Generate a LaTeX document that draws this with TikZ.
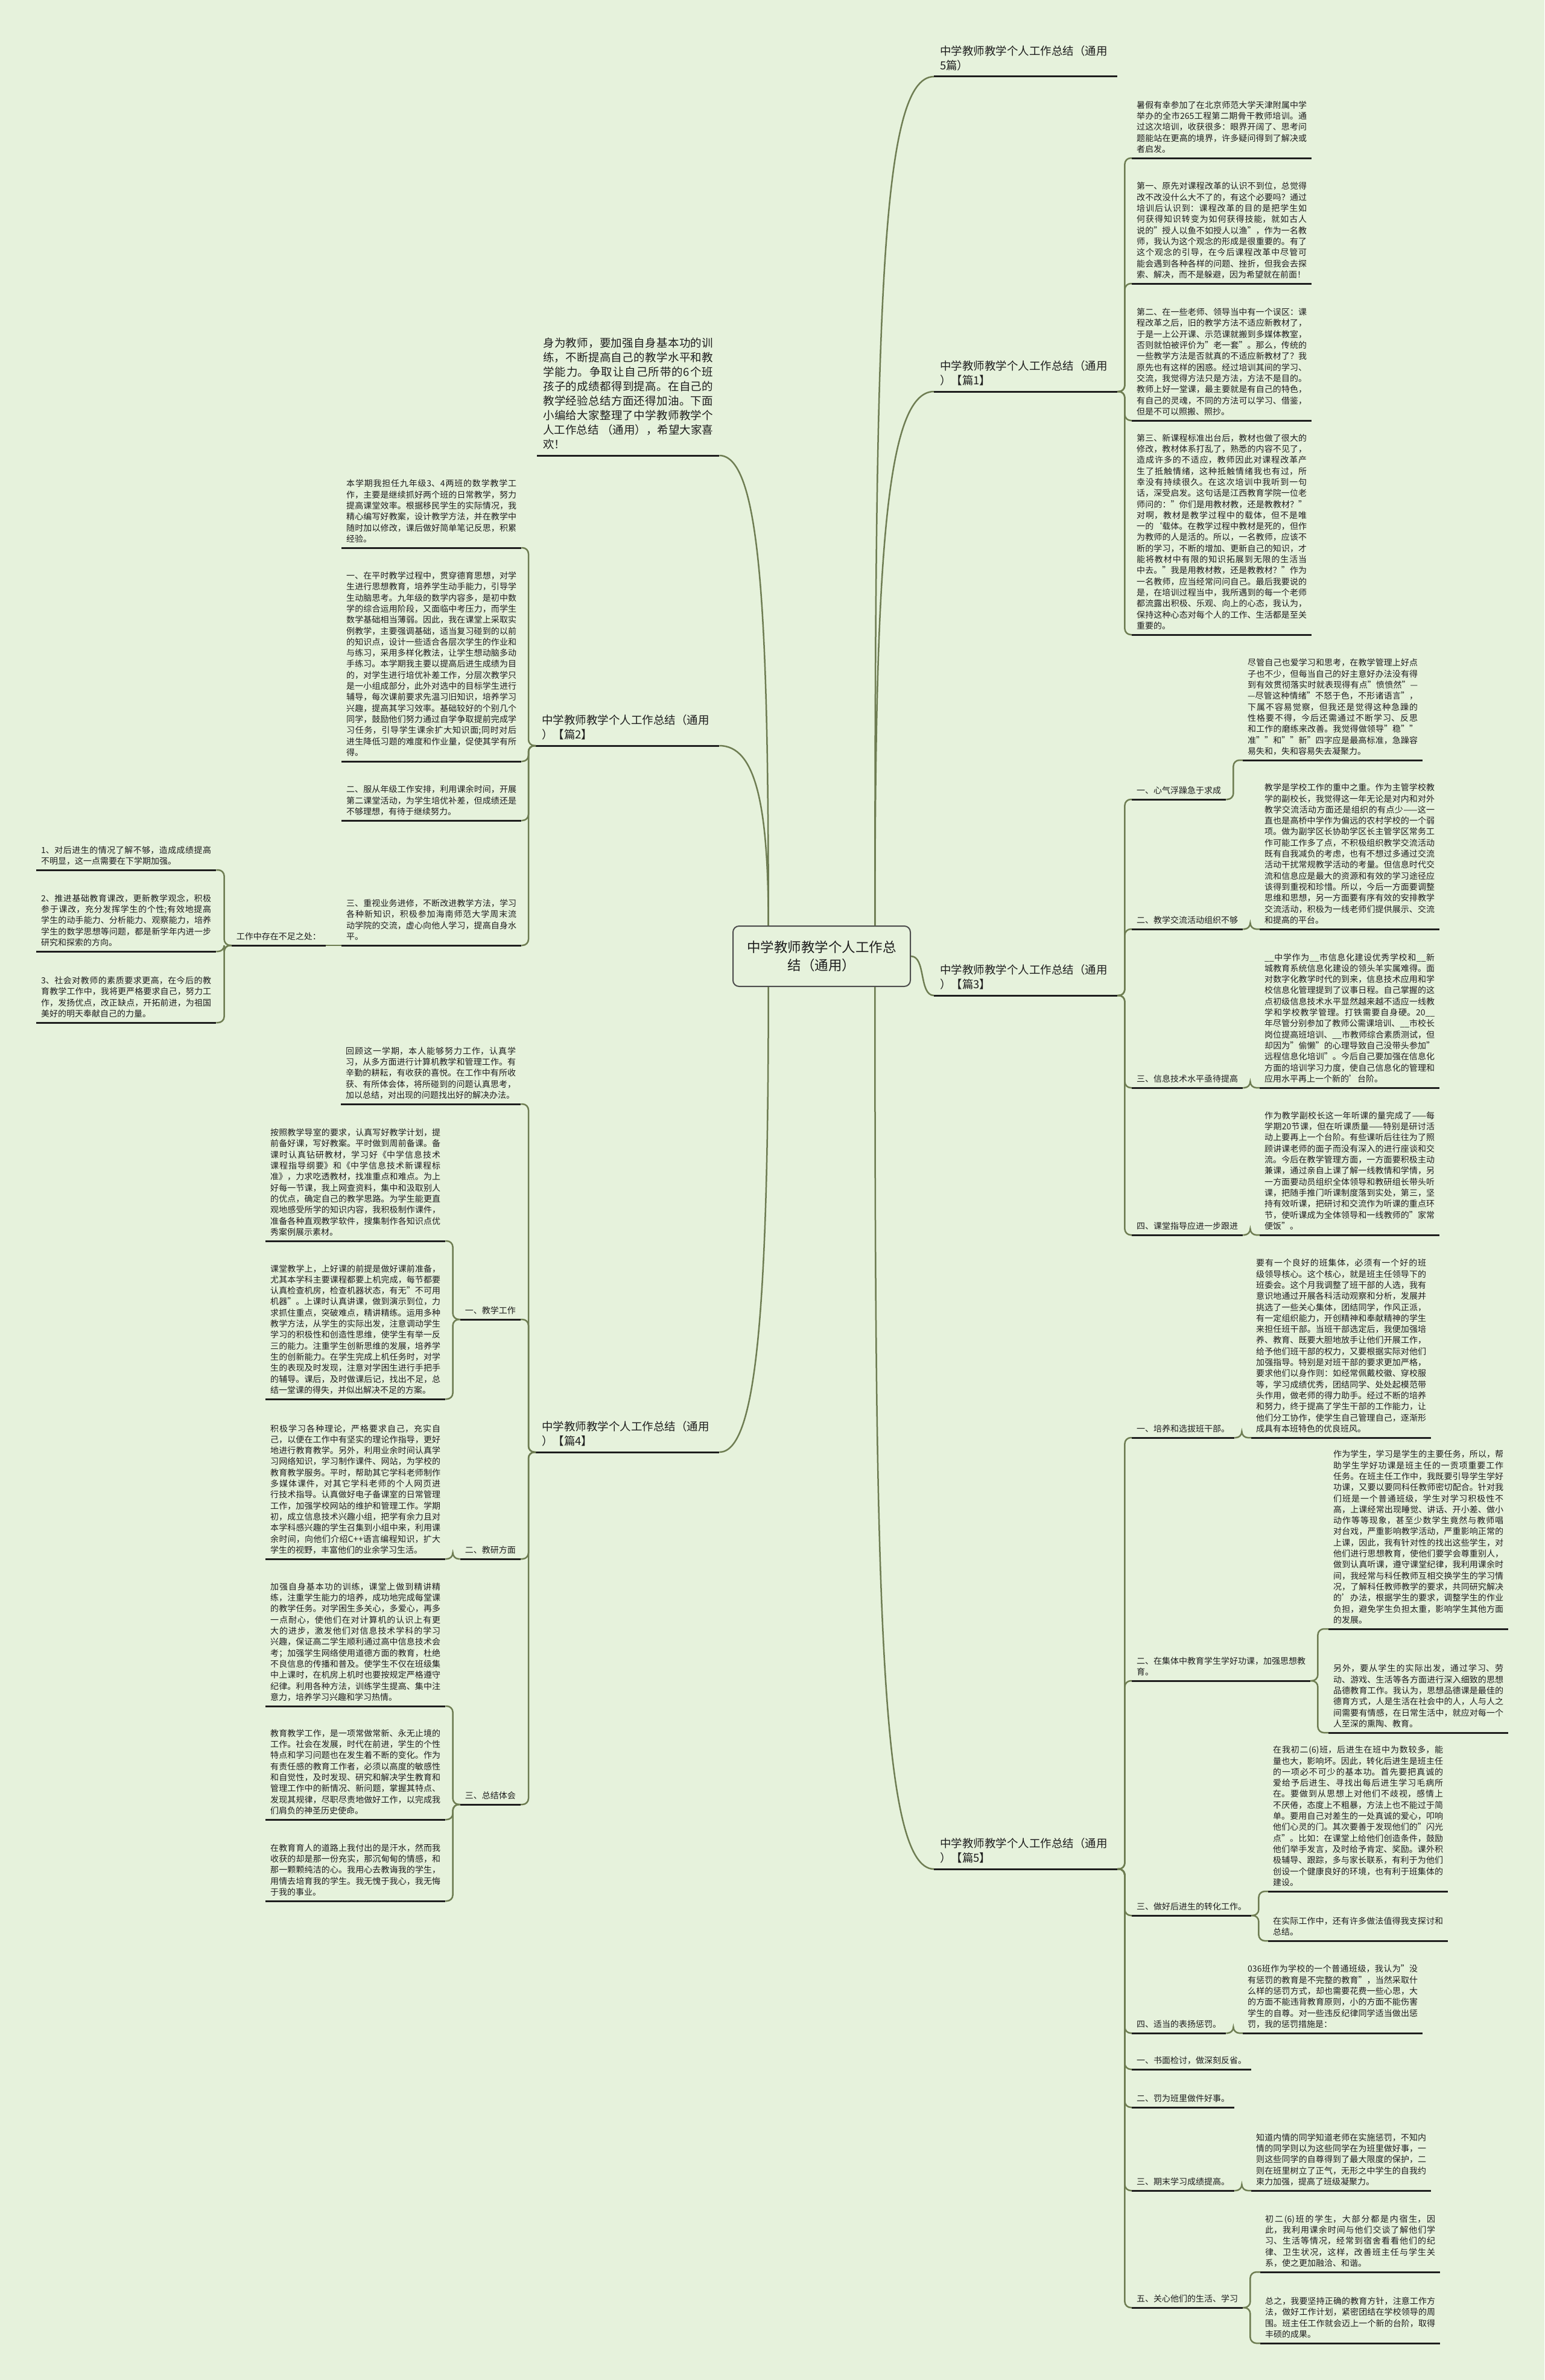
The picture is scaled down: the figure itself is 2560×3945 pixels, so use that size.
\documentclass[tikz,border=0pt]{standalone}
\usepackage{fontspec}
\setmainfont{Noto Sans CJK SC}
\XeTeXlinebreaklocale "zh"
\XeTeXlinebreakskip=0pt plus 1pt
\usetikzlibrary{calc}
\definecolor{mapbg}{HTML}{E6F2DC}
\definecolor{mapline}{HTML}{6E7D52}
\definecolor{mapink}{HTML}{1E1E1E}

\tikzset{
  leaf/.style={anchor=south west, inner xsep=8pt, inner ysep=4pt, text width=282pt,
    align=justify, font=\fontsize{14}{18.3}\selectfont, text=mapink,
    execute at begin node=\strut, execute at end node=\strut},
  head/.style={anchor=south west, inner xsep=8pt, inner ysep=4pt, align=left,
    font=\fontsize{14}{18.3}\selectfont, text=mapink,
    execute at begin node=\strut, execute at end node=\strut},
  part/.style={anchor=south west, inner xsep=10pt, inner ysep=4pt, text width=284pt,
    align=left, font=\fontsize{18.5}{24}\selectfont, text=mapink,
    execute at begin node=\strut, execute at end node=\strut},
  uline/.style={draw=mapink, line width=3pt},
  conn/.style={draw=mapline, line width=2.5pt, rounded corners=10pt},
}

\begin{document}
\begin{tikzpicture}[x=1pt,y=-1pt]
  \fill[mapbg] (0,0) rectangle (2560,3945);
  \useasboundingbox (0,0) rectangle (2560,3945);

  % root
  \node[draw=black!70, line width=2pt, rounded corners=10pt, fill=mapbg,
    minimum width=294pt, minimum height=100pt, align=center, text=mapink,
    font=\fontsize{22.5}{30}\selectfont] (root) at (1362,1585)
    {中学教师教学个人工作总\\结（通用）};

  % right side
  \node[part] (ttl) at (1548,127) {中学教师教学个人工作总结（通用\\5篇）};
  \node[part] (p1) at (1548,649) {中学教师教学个人工作总结（通用\\）【篇1】};
  \node[part] (p3) at (1548,1650) {中学教师教学个人工作总结（通用\\）【篇3】};
  \node[part] (p5) at (1548,3098) {中学教师教学个人工作总结（通用\\）【篇5】};

  \node[leaf] (p1a) at (1876,262) {暑假有幸参加了在北京师范大学天津附属中学举办的全市265工程第二期骨干教师培训。通过这次培训，收获很多：眼界开阔了、思考问题能站在更高的境界，许多疑问得到了解决或者启发。};
  \node[leaf] (p1b) at (1876,470) {第一、原先对课程改革的认识不到位，总觉得改不改没什么大不了的，有这个必要吗？通过培训后认识到：课程改革的目的是把学生如何获得知识转变为如何获得技能，就如古人说的"授人以鱼不如授人以渔"，作为一名教师，我认为这个观念的形成是很重要的。有了这个观念的引导，在今后课程改革中尽管可能会遇到各种各样的问题、挫折，但我会去探索、解决，而不是躲避，因为希望就在前面！};
  \node[leaf] (p1c) at (1876,697) {第二、在一些老师、领导当中有一个误区：课程改革之后，旧的教学方法不适应新教材了，于是一上公开课、示范课就搬到多媒体教室，否则就怕被评价为"老一套"。那么，传统的一些教学方法是否就真的不适应新教材了？我原先也有这样的困惑。经过培训其间的学习、交流，我觉得方法只是方法，方法不是目的。教师上好一堂课，最主要就是有自己的特色，有自己的灵魂，不同的方法可以学习、借鉴，但是不可以照搬、照抄。};
  \node[leaf] (p1d) at (1876,1052) {第三、新课程标准出台后，教材也做了很大的修改，教材体系打乱了，熟悉的内容不见了，造成许多的不适应，教师因此对课程改革产生了抵触情绪，这种抵触情绪我也有过，所幸没有持续很久。在这次培训中我听到一句话，深受启发。这句话是江西教育学院一位老师问的："你们是用教材教，还是教教材？"对啊，教材是教学过程中的载体，但不是唯一的`载体。在教学过程中教材是死的，但作为教师的人是活的。所以，一名教师，应该不断的学习，不断的增加、更新自己的知识，才能将教材中有限的知识拓展到无限的生活当中去。"我是用教材教，还是教教材？"作为一名教师，应当经常问问自己。最后我要说的是，在培训过程当中，我所遇到的每一个老师都流露出积极、乐观、向上的心态，我认为，保持这种心态对每个人的工作、生活都是至关重要的。};

  \node[head] (p3ha) at (1876,1325) {一、心气浮躁急于求成};
  \node[head] (p3hb) at (1876,1540) {二、教学交流活动组织不够};
  \node[head] (p3hc) at (1876,1803) {三、信息技术水平亟待提高};
  \node[head] (p3hd) at (1876,2047) {四、课堂指导应进一步跟进};
  \node[leaf] (p3a) at (2060,1260) {尽管自己也爱学习和思考，在教学管理上好点子也不少，但每当自己的好主意好办法没有得到有效贯彻落实时就表现得有点"愤愤然"——尽管这种情绪"不怒于色，不形诸语言"，下属不容易觉察，但我还是觉得这种急躁的性格要不得，今后还需通过不断学习、反思和工作的磨练来改善。我觉得做领导"稳""准""和""新"四字应是最高标准，急躁容易失和，失和容易失去凝聚力。};
  \node[leaf] (p3b) at (2088,1540) {教学是学校工作的重中之重。作为主管学校教学的副校长，我觉得这一年无论是对内和对外教学交流活动方面还是组织的有点少——这一直也是高桥中学作为偏远的农村学校的一个弱项。做为副学区长协助学区长主管学区常务工作可能工作多了点，不积极组织教学交流活动既有自我减负的考虑，也有不想过多通过交流活动干扰常规教学活动的考量。但信息时代交流和信息应是最大的资源和有效的学习途径应该得到重视和珍惜。所以，今后一方面要调整思维和思想，另一方面要有序有效的安排教学交流活动，积极为一线老师们提供展示、交流和提高的平台。};
  \node[leaf] (p3c) at (2088,1803) {\_\_中学作为\_\_市信息化建设优秀学校和\_\_新城教育系统信息化建设的领头羊实属难得。面对数字化教学时代的到来，信息技术应用和学校信息化管理提到了议事日程。自己掌握的这点初级信息技术水平显然越来越不适应一线教学和学校教学管理。打铁需要自身硬。20\_\_年尽管分别参加了教师公需课培训、\_\_市校长岗位提高班培训、\_\_市教师综合素质测试，但却因为"偷懒"的心理导致自己没带头参加"远程信息化培训"。今后自己要加强在信息化方面的培训学习力度，使自己信息化的管理和应用水平再上一个新的'台阶。};
  \node[leaf] (p3d) at (2088,2047) {作为教学副校长这一年听课的量完成了——每学期20节课，但在听课质量——特别是研讨活动上要再上一个台阶。有些课听后往往为了照顾讲课老师的面子而没有深入的进行座谈和交流。今后在教学管理方面，一方面要积极主动兼课，通过亲自上课了解一线教情和学情，另一方面要动员组织全体领导和教研组长带头听课，把随手推门听课制度落到实处，第三，坚持有效听课，把研讨和交流作为听课的重点环节，使听课成为全体领导和一线教师的"家常便饭"。};

  \node[head] (p5ha) at (1876,2383) {一、培养和选拔班干部。};
  \node[head] (p5hb) at (1876,2786) {二、在集体中教育学生学好功课，加强思想教\\育。};
  \node[head] (p5hc) at (1876,3175) {三、做好后进生的转化工作。};
  \node[head] (p5hd) at (1876,3370) {四、适当的表扬惩罚。};
  \node[head] (p5he) at (1876,3430) {一、书面检讨，做深刻反省。};
  \node[head] (p5hf) at (1876,3493) {二、罚为班里做件好事。};
  \node[head] (p5hg) at (1876,3631) {三、期末学习成绩提高。};
  \node[head] (p5hh) at (1876,3825) {五、关心他们的生活、学习};
  \node[leaf] (p5a) at (2074,2383) {要有一个良好的班集体，必须有一个好的班级领导核心。这个核心，就是班主任领导下的班委会。这个月我调整了班干部的人选，我有意识地通过开展各科活动观察和分析，发展并挑选了一些关心集体，团结同学，作风正派，有一定组织能力，开创精神和奉献精神的学生来担任班干部。当班干部选定后，我便加强培养、教育、既要大胆地放手让他们开展工作，给予他们班干部的权力，又要根据实际对他们加强指导。特别是对班干部的要求更加严格，要求他们以身作则：如经常佩戴校徽、穿校服等，学习成绩优秀，团结同学、处处起模范带头作用，做老师的得力助手。经过不断的培养和努力，终于提高了学生干部的工作能力，让他们分工协作，使学生自己管理自己，逐渐形成具有本班特色的优良班风。};
  \node[leaf] (p5b) at (2202,2700) {作为学生，学习是学生的主要任务，所以，帮助学生学好功课是班主任的一贡项重要工作任务。在班主任工作中，我既要引导学生学好功课，又要以要同科任教师密切配合。针对我们班是一个普通班级，学生对学习积极性不高，上课经常出现睡觉、讲话、开小差、做小动作等等现象，甚至少数学生竟然与教师唱对台戏，严重影响教学活动，严重影响正常的上课，因此，我有针对性的找出这些学生，对他们进行思想教育，使他们要学会尊重别人，做到认真听课，遵守课堂纪律，我利用课余时间，我经常与科任教师互相交换学生的学习情况，了解科任教师教学的要求，共同研究解决的'办法，根据学生的要求，调整学生的作业负担，避免学生负担太重，影响学生其他方面的发展。};
  \node[leaf] (p5c) at (2202,2872) {另外，要从学生的实际出发，通过学习、劳动、游戏、生活等各方面进行深入细致的思想品德教育工作。我认为，思想品德课是最佳的德育方式，人是生活在社会中的人，人与人之间需要有情感，在日常生活中，就应对每一个人至深的熏陶、教育。};
  \node[leaf] (p5d) at (2102,3135) {在我初二(6)班，后进生在班中为数较多，能量也大，影响坏。因此，转化后进生是班主任的一项必不可少的基本功。首先要把真诚的爱给予后进生、寻找出每后进生学习毛病所在。要做到从思想上对他们不歧视，感情上不厌倦，态度上不粗暴，方法上也不能过于简单。要用自己对差生的一处真诚的爱心，叩响他们心灵的门。其次要善于发现他们的"闪光点"。比如：在课堂上给他们创造条件，鼓励他们举手发言，及时给予肯定、奖励。课外积极辅导、跟踪，多与家长联系，有利于为他们创设一个健康良好的环境，也有利于班集体的建设。};
  \node[leaf] (p5e) at (2102,3217) {在实际工作中，还有许多做法值得我支探讨和总结。};
  \node[leaf] (p5f) at (2060,3370) {036班作为学校的一个普通班级，我认为"没有惩罚的教育是不完整的教育"，当然采取什么样的惩罚方式，却也需要花费一些心思，大的方面不能违背教育原则，小的方面不能伤害学生的自尊。对一些违反纪律同学适当做出惩罚，我的惩罚措施是：};
  \node[leaf] (p5g) at (2074,3631) {知道内情的同学知道老师在实施惩罚，不知内情的同学则以为这些同学在为班里做好事，一则这些同学的自尊得到了最大限度的保护，二则在班里树立了正气，无形之中学生的自我约束力加强，提高了班级凝聚力。};
  \node[leaf] (p5h) at (2089,3766) {初二(6)班的学生，大部分都是内宿生，因此，我利用课余时间与他们交谈了解他们学习、生活等情况，经常到宿舍看看他们的纪律、卫生状况，这样，改善班主任与学生关系，使之更加融洽、和谐。};
  \node[leaf] (p5i) at (2089,3884) {总之，我要坚持正确的教育方针，注意工作方法，做好工作计划，紧密团结在学校领导的周围。班主任工作就会迈上一个新的台阶，取得丰硕的成果。};

  % left side
  \node[part, inner xsep=10pt, text width=282pt, align=justify] (intro) at (890,755) {身为教师，要加强自身基本功的训练，不断提高自己的教学水平和教学能力。争取让自己所带的6个班孩子的成绩都得到提高。在自己的教学经验总结方面还得加油。下面小编给大家整理了中学教师教学个人工作总结 （通用），希望大家喜欢！};
  \node[part] (p2) at (888,1236) {中学教师教学个人工作总结（通用\\）【篇2】};
  \node[part] (p4) at (888,2407) {中学教师教学个人工作总结（通用\\）【篇4】};

  \node[leaf] (p2a) at (566,908) {本学期我担任九年级3、4两班的数学教学工作，主要是继续抓好两个班的日常教学，努力提高课堂效率。根据移民学生的实际情况，我精心编写好教案，设计教学方法，并在教学中随时加以修改，课后做好简单笔记反思，积累经验。};
  \node[leaf] (p2b) at (566,1262) {一、在平时教学过程中，贯穿德育思想，对学生进行思想教育，培养学生动手能力，引导学生动脑思考。九年级的数学内容多，是初中数学的综合运用阶段，又面临中考压力，而学生数学基础相当薄弱。因此，我在课堂上采取实例教学，主要强调基础，适当复习碰到的以前的知识点，设计一些适合各层次学生的作业和与练习，采用多样化教法，让学生想动脑多动手练习。本学期我主要以提高后进生成绩为目的，对学生进行培优补差工作，分层次教学只是一小组成部分，此外对选中的目标学生进行辅导，每次课前要求先温习旧知识，培养学习兴趣，提高其学习效率。基础较好的个别几个同学，鼓励他们努力通过自学争取提前完成学习任务，引导学生课余扩大知识面;同时对后进生降低习题的难度和作业量，促使其学有所得。};
  \node[leaf] (p2c) at (566,1360) {二、服从年级工作安排，利用课余时间，开展第二课堂活动，为学生培优补差，但成绩还是不够理想，有待于继续努力。};
  \node[leaf] (p2d) at (566,1567) {三、重视业务进修，不断改进教学方法，学习各种新知识，积极参加海南师范大学周末流动学院的交流，虚心向他人学习，提高自身水平。};
  \node[head, anchor=south east] (gz) at (540,1567) {工作中存在不足之处：};
  \node[leaf] (la) at (60,1442) {1、对后进生的情况了解不够，造成成绩提高不明显，这一点需要在下学期加强。};
  \node[leaf] (lb) at (60,1577) {2、推进基础教育课改，更新教学观念，积极参于课改，充分发挥学生的个性;有效地提高学生的动手能力、分析能力、观察能力，培养学生的数学思想等问题，都是新学年内进一步研究和探索的方向。};
  \node[leaf] (lc) at (60,1695) {3、社会对教师的素质要求更高，在今后的教育教学工作中，我将更严格要求自己，努力工作，发扬优点，改正缺点，开拓前进，为祖国美好的明天奉献自己的力量。};

  \node[leaf] (p4a) at (565,1830) {回顾这一学期，本人能够努力工作，认真学习，从多方面进行计算机教学和管理工作。有辛勤的耕耘，有收获的喜悦。在工作中有所收获、有所体会体，将所碰到的问题认真思考，加以总结，对出现的问题找出好的解决办法。};
  \node[head, anchor=south east] (p4ha) at (863,2187) {一、教学工作};
  \node[head, anchor=south east] (p4hb) at (863,2584) {二、教研方面};
  \node[head, anchor=south east] (p4hc) at (863,2991) {三、总结体会};
  \node[leaf] (p4b) at (440,2057) {按照教学导室的要求，认真写好教学计划，提前备好课，写好教案。平时做到周前备课。备课时认真钻研教材，学习好《中学信息技术课程指导纲要》和《中学信息技术新课程标准》，力求吃透教材，找准重点和难点。为上好每一节课，我上网查资料，集中和汲取别人的优点，确定自己的教学思路。为学生能更直观地感受所学的知识内容，我积极制作课件，准备各种直观教学软件，搜集制作各知识点优秀案例展示素材。};
  \node[leaf] (p4c) at (440,2319) {课堂教学上，上好课的前提是做好课前准备，尤其本学科主要课程都要上机完成，每节都要认真检查机房，检查机器状态，有无"不可用机器"。上课时认真讲课，做到演示到位，力求抓住重点，突破难点，精讲精练。运用多种教学方法，从学生的实际出发，注意调动学生学习的积极性和创造性思维，使学生有举一反三的能力。注重学生创新思维的发展，培养学生的创新能力。在学生完成上机任务时，对学生的表现及时发现，注意对学困生进行手把手的辅导。课后，及时做课后记，找出不足，总结一堂课的得失，并似出解决不足的方案。};
  \node[leaf] (p4d) at (440,2584) {积极学习各种理论，严格要求自己，充实自己，以便在工作中有坚实的理论作指导，更好地进行教育教学。另外，利用业余时间认真学习网络知识，学习制作课件、网站，为学校的教育教学服务。平时，帮助其它学科老师制作多媒体课件，对其它学科老师的个人网页进行技术指导。认真做好电子备课室的日常管理工作，加强学校网站的维护和管理工作。学期初，成立信息技术兴趣小组，把学有余力且对本学科感兴趣的学生召集到小组中来，利用课余时间，向他们介绍C++语言编程知识，扩大学生的视野，丰富他们的业余学习生活。};
  \node[leaf] (p4e) at (440,2828) {加强自身基本功的训练，课堂上做到精讲精练，注重学生能力的培养，成功地完成每堂课的教学任务。对学困生多关心，多爱心，再多一点耐心，使他们在对计算机的认识上有更大的进步，激发他们对信息技术学科的学习兴趣，保证高二学生顺利通过高中信息技术会考；加强学生网络使用道德方面的教育，杜绝不良信息的传播和普及。使学生不仅在班级集中上课时，在机房上机时也要按规定严格遵守纪律。利用各种方法，训练学生提高、集中注意力，培养学习兴趣和学习热情。};
  \node[leaf] (p4f) at (440,3016) {教育教学工作，是一项常做常新、永无止境的工作。社会在发展，时代在前进，学生的个性特点和学习问题也在发生着不断的变化。作为有责任感的教育工作者，必须以高度的敏感性和自觉性，及时发现、研究和解决学生教育和管理工作中的新情况、新问题，掌握其特点、发现其规律，尽职尽责地做好工作，以完成我们肩负的神圣历史使命。};
  \node[leaf] (p4g) at (440,3151) {在教育育人的道路上我付出的是汗水，然而我收获的却是那一份充实，那沉甸甸的情感，和那一颗颗纯洁的心。我用心去教诲我的学生，用情去培育我的学生。我无愧于我心，我无悔于我的事业。};

  % underlines
  \foreach \n in {ttl,p1,p3,p5,p2,p4,intro,p1a,p1b,p1c,p1d,p3ha,p3hb,p3hc,p3hd,p3a,p3b,p3c,p3d,
      p5ha,p5hb,p5hc,p5hd,p5he,p5hf,p5hg,p5hh,p5a,p5b,p5c,p5d,p5e,p5f,p5g,p5h,p5i,
      p2a,p2b,p2c,p2d,gz,la,lb,lc,p4a,p4ha,p4hb,p4hc,p4b,p4c,p4d,p4e,p4f,p4g}
    \draw[uline] (\n.south west) -- (\n.south east);

  % root to main branches
  \draw[conn] (root.30) .. controls +(0,-1000) and +(-90,0) .. (ttl.south west);
  \draw[conn] (root.30) .. controls +(0,-600) and +(-80,0) .. (p1.south west);
  \draw[conn] (root.east) .. controls +(25,0) and +(-25,0) .. (p3.south west);
  \draw[conn] (root.-30) .. controls +(0,1000) and +(-90,0) .. (p5.south west);
  \draw[conn] (root.150) .. controls +(0,-500) and +(70,0) .. (intro.south east);
  \draw[conn] (root.150) .. controls +(0,-200) and +(60,0) .. (p2.south east);
  \draw[conn] (root.-150) .. controls +(0,550) and +(60,0) .. (p4.south east);

  % right brackets
  \foreach \a/\b in {p1/p1a,p1/p1b,p1/p1c,p1/p1d,p3/p3ha,p3/p3hb,p3/p3hc,p3/p3hd,
      p3ha/p3a,p3hb/p3b,p3hc/p3c,p3hd/p3d,p5/p5ha,p5/p5hb,p5/p5hc,p5/p5hd,p5/p5he,
      p5/p5hf,p5/p5hg,p5/p5hh,p5ha/p5a,p5hb/p5b,p5hb/p5c,p5hc/p5d,p5hc/p5e,
      p5hd/p5f,p5hg/p5g,p5hh/p5h,p5hh/p5i}
    \draw[conn] (\a.south east) -- ++(12,0) |- (\b.south west);

  % left brackets
  \foreach \a/\b in {p2/p2a,p2/p2b,p2/p2c,p2/p2d,gz/la,gz/lb,gz/lc,p4/p4a,p4/p4ha,
      p4/p4hb,p4/p4hc,p4ha/p4b,p4ha/p4c,p4hb/p4d,p4hc/p4e,p4hc/p4f,p4hc/p4g}
    \draw[conn] (\a.south west) -- ++(-12,0) |- (\b.south east);
  \draw[conn] (p2d.south west) -- (gz.south east);
\end{tikzpicture}
\end{document}
